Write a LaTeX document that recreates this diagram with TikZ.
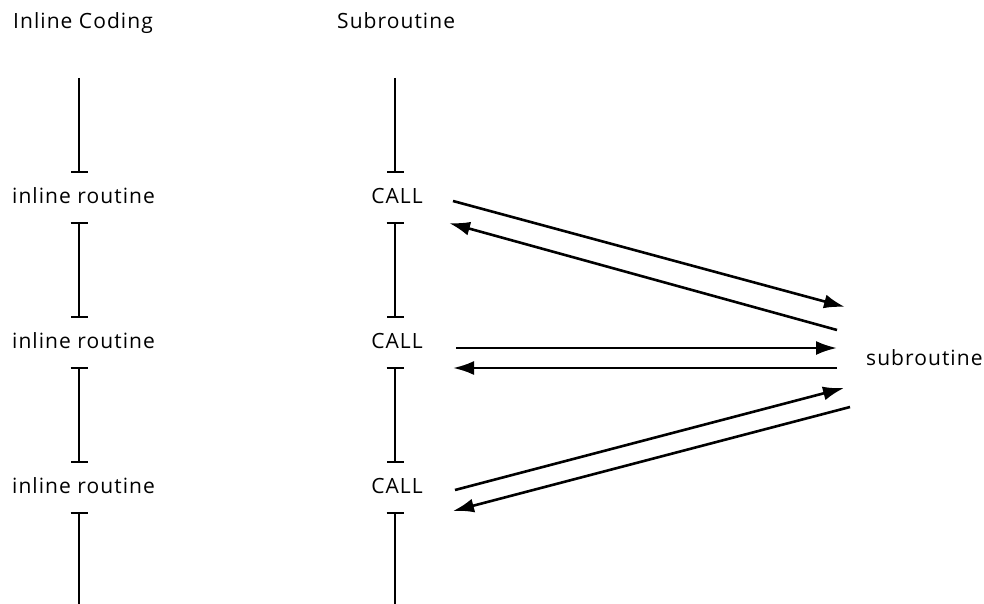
\documentclass[tikz,border=0pt]{standalone}
\usepackage{fontspec}
\setmainfont{Open Sans}[LetterSpace=5]
\usetikzlibrary{arrows.meta,calc}
\begin{document}
\begin{tikzpicture}[x=1pt,y=-1pt,
  lbl/.style={font=\fontsize{21}{25}\selectfont, inner sep=0pt},
  rowlbl/.style={lbl, text height=15pt, text depth=4pt, minimum height=49pt},
  seg/.style={line width=1.6pt},
  tbar/.tip={Bar[width=17pt]},
  arr/.style={line width=2.6pt, -{Latex[length=21pt,width=14pt]}}
]
\useasboundingbox (0,0) rectangle (984,604);

% titles
\node[lbl, anchor=base west] (t1) at (13,29) {Inline Coding};
\node[lbl, anchor=base west] (t2) at (337,29) {Subroutine};

% left column labels
\node[rowlbl, anchor=west] (i1) at (12,197.5) {inline routine};
\node[rowlbl, anchor=west] (i2) at (12,342.5) {inline routine};
\node[rowlbl, anchor=west] (i3) at (12,487.5) {inline routine};

% right column labels
\node[rowlbl] (c1) at (397,197.5) {CALL};
\node[rowlbl] (c2) at (397,342.5) {CALL};
\node[rowlbl] (c3) at (397,487.5) {CALL};

\node[lbl, anchor=west] (sub) at (866,357.5) {subroutine};

% column axes
\coordinate (lx) at (79,0);
\coordinate (rx) at (395,0);
\coordinate (ltop) at (79,78);
\coordinate (lbot) at (79,604);
\coordinate (rtop) at (395,78);
\coordinate (rbot) at (395,604);

% inline coding column
\draw[seg, -{tbar}] (ltop) -- (i1.north -| lx);
\draw[seg, {tbar}-{tbar}] (i1.south -| lx) -- (i2.north -| lx);
\draw[seg, {tbar}-{tbar}] (i2.south -| lx) -- (i3.north -| lx);
\draw[seg, {tbar}-] (i3.south -| lx) -- (lbot);

% subroutine column
\draw[seg, -{tbar}] (rtop) -- (c1.north -| rx);
\draw[seg, {tbar}-{tbar}] (c1.south -| rx) -- (c2.north -| rx);
\draw[seg, {tbar}-{tbar}] (c2.south -| rx) -- (c3.north -| rx);
\draw[seg, {tbar}-] (c3.south -| rx) -- (rbot);

% calls and returns
\draw[arr] ($(c1.center)+(56,3.5)$) -- ($(sub.west)+(-21,-50.5)$);
\draw[arr] ($(sub.west)+(-29,-27.5)$) -- ($(c1.center)+(52,25.5)$);
\draw[arr] ($(c2.center)+(59,5.5)$) -- ($(sub.west)+(-29,-9.5)$);
\draw[arr] ($(sub.west)+(-29,10.5)$) -- ($(c2.center)+(56,25.5)$);
\draw[arr] ($(c3.center)+(58,2.5)$) -- ($(sub.west)+(-22,30.5)$);
\draw[arr] ($(sub.west)+(-16,49.5)$) -- ($(c3.center)+(56,23.5)$);
\end{tikzpicture}
\end{document}
